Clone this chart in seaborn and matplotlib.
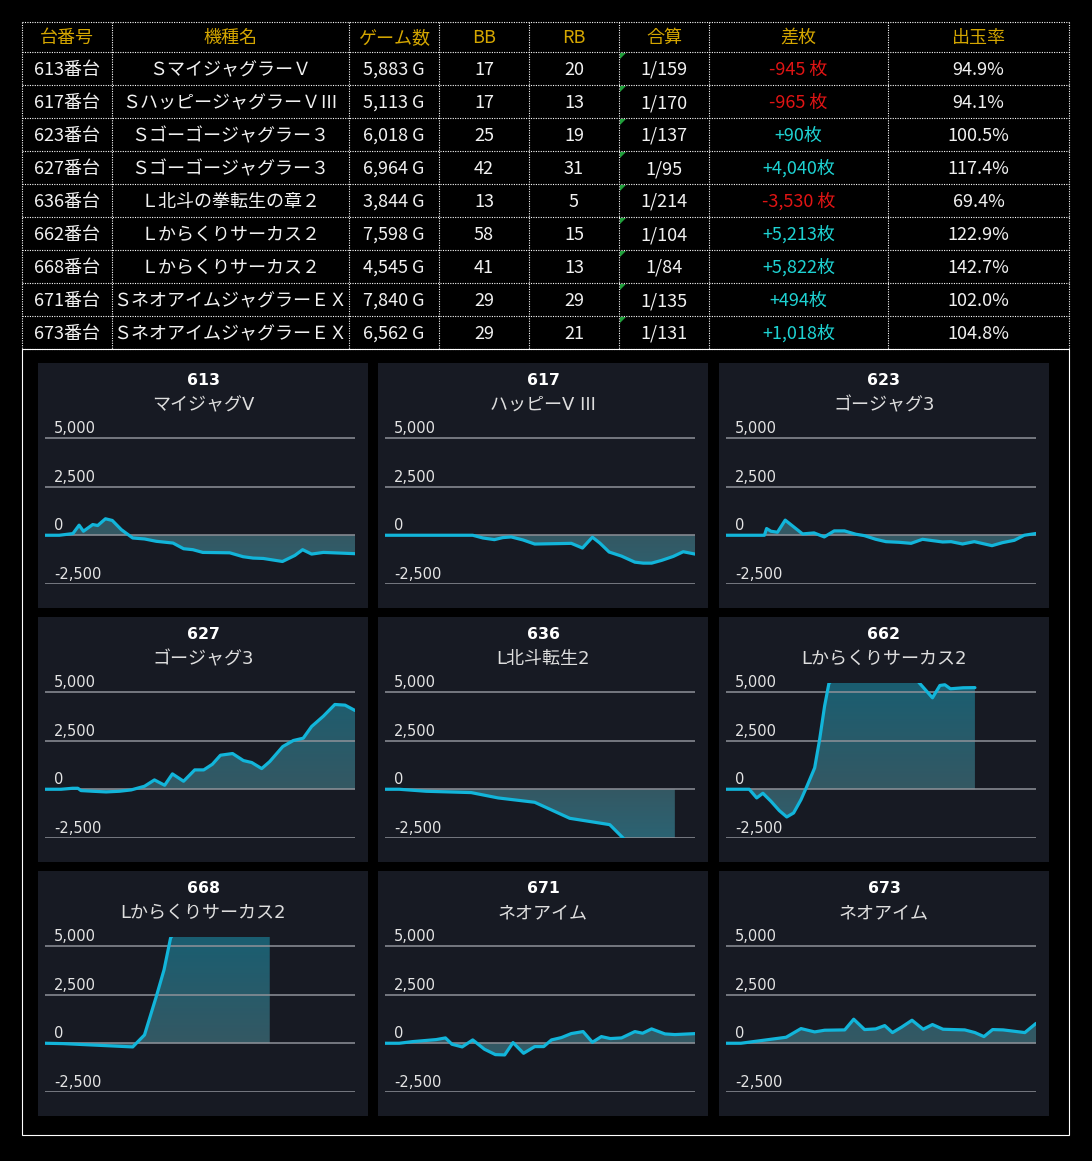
import numpy as np
import pandas as pd
import matplotlib
matplotlib.use("Agg")
import matplotlib.pyplot as plt
import seaborn as sns
from matplotlib.colors import LinearSegmentedColormap
from matplotlib.path import Path
from matplotlib.patches import Rectangle, Polygon
import matplotlib.transforms as mtransforms

# ---------------- table data ----------------
headers = ["台番号", "機種名", "ゲーム数", "BB", "RB", "合算", "差枚", "出玉率"]
machines = ["613番台", "617番台", "623番台", "627番台", "636番台",
            "662番台", "668番台", "671番台", "673番台"]
models = ["ＳマイジャグラーＶ", "ＳハッピージャグラーＶⅢ", "Ｓゴーゴージャグラー３",
          "Ｓゴーゴージャグラー３", "Ｌ北斗の拳転生の章２", "Ｌからくりサーカス２",
          "Ｌからくりサーカス２", "ＳネオアイムジャグラーＥＸ", "ＳネオアイムジャグラーＥＸ"]
games = ["5,883 G", "5,113 G", "6,018 G", "6,964 G", "3,844 G",
         "7,598 G", "4,545 G", "7,840 G", "6,562 G"]
bb = [17, 17, 25, 42, 13, 58, 41, 29, 29]
rb = [20, 13, 19, 31, 5, 15, 13, 29, 21]
combined = ["1/159", "1/170", "1/137", "1/95", "1/214", "1/104", "1/84", "1/135", "1/131"]
diff = [-945, -965, 90, 4040, -3530, 5213, 5822, 494, 1018]
payout = ["94.9%", "94.1%", "100.5%", "117.4%", "69.4%", "122.9%", "142.7%", "102.0%", "104.8%"]

# ---------------- chart data ----------------
chart_ids = ["613", "617", "623", "627", "636", "662", "668", "671", "673"]
chart_names = ["マイジャグV", "ハッピーV III", "ゴージャグ3", "ゴージャグ3", "L北斗転生2",
               "Lからくりサーカス2", "Lからくりサーカス2", "ネオアイム", "ネオアイム"]
y_ticks = [5000, 2500, 0, -2500]
y_tick_labels = ["5,000", "2,500", "0", "-2,500"]

x_613 = [0, 4.6, 9, 11, 12.4, 15.4, 17, 19.5, 21.7, 24.6, 28.3, 32.1, 35.9, 41.3, 44.7, 47.7,
         50.9, 59.6, 63.9, 67.1, 70.4, 76.6, 80.6, 83.1, 86, 89.8, 93, 100]
y_613 = [0, 0, 86, 517, 207, 550, 500, 845, 760, 290, -140, -190, -310, -400, -690, -740,
         -880, -900, -1100, -1170, -1190, -1345, -1035, -740, -965, -880, -900, -945]

x_617 = [0, 28.3, 31.6, 35.3, 38, 40.7, 44.5, 48.3, 55.3, 60.1, 63.7, 66.9, 69.3, 72.3,
         76.3, 80.6, 83.3, 86, 89.2, 93, 96.2, 100]
y_617 = [0, 0, -140, -225, -120, -86, -240, -450, -430, -415, -655, -100, -400, -860,
         -1070, -1380, -1430, -1430, -1290, -1085, -845, -965]

x_623 = [0, 12.4, 13.1, 14.5, 16.6, 19.1, 24.7, 28.4, 31.7, 34.9, 38.2, 41.9, 44.6, 48.3,
         51.6, 55.9, 59.7, 63.4, 69.9, 72.6, 76.3, 80.1, 85.8, 89.2, 93, 96.2, 100]
y_623 = [0, 0, 345, 207, 155, 776, 69, 120, -86, 224, 224, 52, -17, -207,
         -328, -362, -414, -207, -345, -328, -448, -328, -534, -379, -259, 0, 90]

x_627 = [0, 5.2, 8.9, 10.6, 11.6, 15.4, 19.7, 24, 27.8, 32.1, 35.3, 38.6, 41.1, 44.7, 48.3,
         51.2, 54, 56.6, 60.5, 64, 66.7, 69.9, 72.5, 76.7, 80.1, 83.3, 86, 89.8, 93.5, 96.8, 100]
y_627 = [0, 0, 51, 51, -68, -103, -137, -103, -34, 154, 479, 205, 788, 411, 993,
         993, 1284, 1746, 1832, 1472, 1370, 1061, 1421, 2191, 2500, 2619, 3218, 3749, 4348, 4314, 4040]

x_636 = [0, 4.6, 13.3, 27.8, 36.5, 48.3, 59.6, 72.5, 76.8, 80, 88, 93.5]
y_636 = [0, 0, -103, -171, -445, -668, -1490, -1815, -2500, -3000, -3400, -3530]

x_662 = [0, 7.5, 9.9, 11.9, 14.5, 17.2, 19.6, 21.8, 24.2, 26.1, 28.6, 30.2, 31.8, 33.2,
         40, 50, 58, 62.1, 66.6, 69, 70.6, 72.4, 76.5, 80.3]
y_662 = [0, 0, -445, -205, -616, -1096, -1421, -1216, -531, 154, 1096, 2551, 4263, 5430,
         6600, 7000, 6500, 5500, 4691, 5324, 5359, 5153, 5205, 5213]

x_668 = [0, 5.7, 28.3, 32.1, 35.9, 38.4, 40.5, 45, 55, 65, 72.5]
y_668 = [0, -17, -188, 428, 2397, 3767, 5394, 6500, 7200, 6600, 5822]

x_671 = [0, 4.6, 9, 16.5, 19.5, 21.6, 24.9, 28.3, 32.1, 35.6, 38.6, 41.3, 44.7, 48.3,
         51.2, 53.7, 56.9, 60.1, 63.9, 66.9, 69.8, 72.7, 76.3, 80.6, 83.1, 86, 90.3, 93.5, 100]
y_671 = [0, 0, 86, 188, 274, -51, -188, 171, -308, -582, -599, 34, -514, -171,
         -171, 171, 291, 497, 599, 51, 342, 240, 274, 599, 514, 736, 479, 445, 494]

x_673 = [0, 4.8, 19.4, 24.2, 28.6, 31.8, 38.3, 41.2, 44.7, 48.3, 51.2, 53.7, 56.6, 60,
         63.6, 66.6, 70, 73.3, 77, 80.3, 83.2, 86, 89.4, 96.4, 100]
y_673 = [0, 0, 308, 753, 582, 668, 685, 1233, 702, 736, 907, 548, 822, 1181,
         719, 959, 719, 702, 685, 548, 342, 702, 685, 548, 1018]

series = [(x_613, y_613), (x_617, y_617), (x_623, y_623), (x_627, y_627), (x_636, y_636),
          (x_662, y_662), (x_668, y_668), (x_671, y_671), (x_673, y_673)]

# ---------------- style ----------------
sns.set_theme(style="dark", rc={"figure.facecolor": "black", "axes.facecolor": "none"})
plt.rcParams["font.family"] = ["Noto Sans CJK JP", "DejaVu Sans"]
chart_font = ["DejaVu Sans", "Noto Sans CJK JP"]

W, H = 1092, 1161
fig = plt.figure(figsize=(W / 100, H / 100), dpi=100, facecolor="black")
bg = fig.add_axes([0, 0, 1, 1])
bg.set_xlim(0, W)
bg.set_ylim(H, 0)
bg.axis("off")
bg.set_facecolor("black")


def fr(x0, y0, w, h):
    return [x0 / W, 1 - (y0 + h) / H, w / W, h / H]


# ---------------- table ----------------
col_edges = [22, 112, 349, 439, 529, 619, 709, 888, 1069]
row_edges = [22, 52] + [52 + 33 * (i + 1) for i in range(9)]
dot = (0, (1, 1.2))
for xe in col_edges:
    bg.plot([xe, xe], [row_edges[0], row_edges[-1]], color="white", lw=0.8, ls=dot)
for ye in row_edges:
    bg.plot([col_edges[0], col_edges[-1]], [ye, ye], color="white", lw=0.8, ls=dot)

centers = [(col_edges[i] + col_edges[i + 1]) / 2 for i in range(len(col_edges) - 1)]
header_color = "#d4a600"
for c, h in zip(centers, headers):
    bg.text(c, 43, h, ha="center", va="baseline", fontsize=13, color=header_color)

body_color = "#f2f2f2"
for i in range(len(machines)):
    base = row_edges[i + 1] + 23
    d = diff[i]
    dlabel = f"{d:+,}" + (" 枚" if d < 0 else "枚")
    dcolor = "#e01414" if d < 0 else "#1ed2d2"
    vals = [machines[i], models[i], games[i], str(bb[i]), str(rb[i]), combined[i], dlabel, payout[i]]
    colors = [body_color] * 6 + [dcolor, body_color]
    for c, v, col in zip(centers, vals, colors):
        bg.text(c, base, v, ha="center", va="baseline", fontsize=13, color=col)
    # small green marker in the 合算 cell
    x0, y0 = col_edges[5] + 1, row_edges[i + 1] + 1
    bg.add_patch(Polygon([[x0, y0], [x0 + 6, y0], [x0, y0 + 6]], closed=True,
                         facecolor="#1f9e3a", edgecolor="none"))

# frame around charts
bg.add_patch(Rectangle((22, 349), 1047, 786, fill=False, edgecolor="white", lw=0.8))

# ---------------- charts ----------------
col_x = [38, 378, 719]
row_y = [363, 617, 871]
PW, PH = 330, 245
YMIN, YMAX = -2500, 5450
line_color = "#12b5da"
grad_cmap = LinearSegmentedColormap.from_list(
    "fillgrad", [(0.0, "#2b6373"), (0.3145, "#345863"), (1.0, "#1a5e71")])
grad = np.linspace(0, 1, 256).reshape(-1, 1)

for k, (cid, cname, (xs, ys)) in enumerate(zip(chart_ids, chart_names, series)):
    r, c = divmod(k, 3)
    px, py = col_x[c], row_y[r]
    bg.add_patch(Rectangle((px, py), PW, PH, facecolor="#171a23", edgecolor="none"))
    bg.text(px + PW / 2, py + 22, cid, ha="center", va="baseline", fontsize=11.3,
            fontweight="bold", color="white", family=chart_font)
    bg.text(px + PW / 2, py + 47, cname, ha="center", va="baseline", fontsize=13,
            color="#dedede", family=chart_font)

    ax = fig.add_axes(fr(px + 7, py + 66, 310, 155))
    ax.set_facecolor("none")
    df = pd.DataFrame({"x": xs, "y": ys})

    im = ax.imshow(grad, extent=(0, 100, YMIN, YMAX), origin="lower", aspect="auto",
                   cmap=grad_cmap, zorder=1, interpolation="bilinear")
    poly = ax.fill_between(df["x"], df["y"], 0, facecolor="none", edgecolor="none")
    clip = Path.make_compound_path(*poly.get_paths())
    im.set_clip_path(clip, ax.transData)

    for v in y_ticks:
        ax.axhline(v, color="#8f9299", lw=1.1, zorder=2)

    sns.lineplot(data=df, x="x", y="y", ax=ax, color=line_color, linewidth=2.3,
                 errorbar=None, zorder=3)

    ax.set_xlim(0, 100)
    ax.set_ylim(YMIN, YMAX)
    ax.set_xticks([])
    ax.set_yticks([])
    ax.set_xlabel("")
    ax.set_ylabel("")
    for s in ax.spines.values():
        s.set_visible(False)
    ax.grid(False)

    trans = mtransforms.offset_copy(ax.get_yaxis_transform(), fig=fig, x=0, y=5, units="dots")
    for v, lab in zip(y_ticks, y_tick_labels):
        ax.text(0.029, v, lab, transform=trans, ha="left", va="baseline", fontsize=10.5,
                color="#e4e4e4", family=chart_font, clip_on=False)

fig.savefig("out.png", dpi=100, facecolor="black")
